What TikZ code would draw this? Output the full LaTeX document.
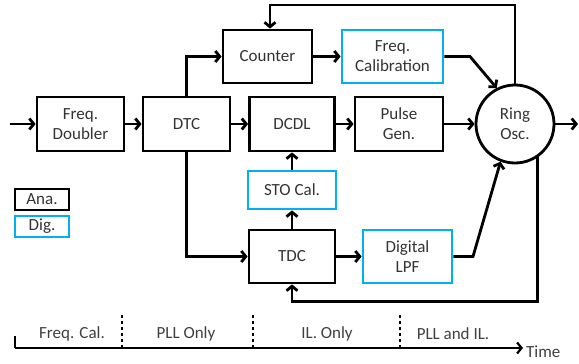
\documentclass[tikz,border=0pt]{standalone}
\usepackage{fontspec}
\setmainfont{Carlito}
\usetikzlibrary{arrows.meta,calc}
\definecolor{digblue}{HTML}{00B0F0}
\definecolor{txt}{HTML}{333333}
\begin{document}
\begin{tikzpicture}[x=1pt,y=-1pt,
  every node/.style={font=\fontsize{17}{20}\selectfont, text=txt, align=center, inner sep=0pt},
  ana/.style={draw=black, line width=2.8pt, minimum width=87pt, minimum height=54pt},
  dig/.style={ana, draw=digblue},
  conn/.style={line width=2.8pt, -{Straight Barb[length=4.5pt,width=11pt,line width=2.8pt]}},
  tl/.style={line width=2.2pt},
  divider/.style={line width=2.6pt, dash pattern=on 3pt off 3pt},
  tltext/.style={text=black!75}]
\useasboundingbox (0,0) rectangle (579,364);
% blocks
\node[ana] (fd) at (80.5,124) {Freq.\\Doubler};
\node[ana] (dtc) at (186.5,124) {DTC};
\node[ana, minimum width=85pt] (dcdl) at (292,124) {DCDL};
\node[ana, minimum width=88pt] (pg) at (399,124) {Pulse\\Gen.};
\node[ana, minimum width=89pt, minimum height=53pt] (cnt) at (267.5,56.5) {Counter};
\node[dig, minimum width=101pt, minimum height=53pt] (fc) at (392.5,56.5) {Freq.\\Calibration};
\node[draw=black, line width=2.8pt, circle, minimum size=78pt] (ring) at (515,124) {Ring\\Osc.};
\node[dig, minimum width=88pt, minimum height=38pt] (sto) at (292,190) {STO Cal.};
\node[ana, minimum width=86pt, minimum height=53pt] (tdc) at (292,256.5) {TDC};
\node[dig, minimum width=89pt, minimum height=53pt] (lpf) at (407.5,256.5) {Digital\\LPF};
% legend
\node[ana, minimum width=54pt, minimum height=21pt] (lana) at (42,199.5) {Ana.};
\node[dig, minimum width=54pt, minimum height=21pt] (ldig) at (42,226.5) {Dig.};
% coordinates
\coordinate (in) at (10,124);
\coordinate (out) at (578,124);
\coordinate (top) at (270,5);
\coordinate (fcbend) at (470,56.5);
\coordinate (lpfbend) at (473,256.5);
% connectors
\draw[conn] (in) -- (fd.west);
\draw[conn] (fd) -- (dtc);
\draw[conn] (dtc) -- (dcdl);
\draw[conn] (dcdl) -- (pg);
\draw[conn] (pg) -- (ring);
\draw[conn] (ring.east) -- (out);
\draw[conn] (dtc.north) |- (cnt.west);
\draw[conn] (cnt) -- (fc);
\draw[conn] (fc.east) -- (fcbend) -- (ring.117);
\draw[conn] (ring.north) |- (top) -- (top |- cnt.north);
\draw[conn] (dtc.south) |- (tdc.west);
\draw[conn] (tdc.north) -- (sto.south);
\draw[conn] (sto.north) -- (dcdl.south);
\draw[conn] (tdc) -- (lpf);
\draw[conn] (lpf.east) -- (lpfbend) -- (ring.249);
\draw[conn] (ring.304) |- ($(tdc.south)+(0,17)$) -- (tdc.south);
% timeline
\coordinate (t0) at (15,348);
\coordinate (t0top) at (15,336);
\coordinate (tend) at (523,348);
\draw[tl] (t0top) -- (t0);
\draw[tl, -{Straight Barb[length=4.5pt,width=11pt,line width=2.2pt]}] (t0) -- (tend);
\coordinate (d1t) at (122,315); \coordinate (d1b) at (122,348);
\coordinate (d2t) at (253,315); \coordinate (d2b) at (253,348);
\coordinate (d3t) at (400,315); \coordinate (d3b) at (400,348);
\draw[divider] (d1t) -- (d1b);
\draw[divider] (d2t) -- (d2b);
\draw[divider] (d3t) -- (d3b);
\node[tltext] (l1) at (72,334) {Freq. Cal.};
\node[tltext] (l2) at (186,334) {PLL Only};
\node[tltext] (l3) at (327,334) {IL. Only};
\node[tltext] (l4) at (453,334) {PLL and IL.};
\node[tltext, anchor=west] (l5) at (526,352) {Time};
\end{tikzpicture}
\end{document}
